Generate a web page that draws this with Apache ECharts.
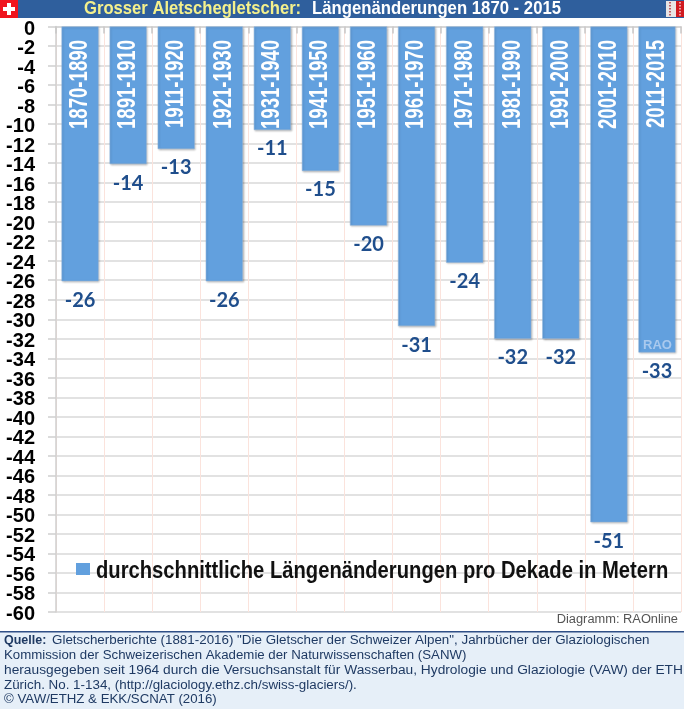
<!DOCTYPE html>
<html><head><meta charset="utf-8">
<script src="https://cdn.jsdelivr.net/npm/echarts@6/dist/echarts.min.js"></script>
<style>html,body{margin:0;padding:0;background:#fff}#c{width:684px;height:709px}</style></head>
<body><div id="c"></div>
<script>
const categories = ['1870-1890','1891-1910','1911-1920','1921-1930','1931-1940','1941-1950','1951-1960','1961-1970','1971-1980','1981-1990','1991-2000','2001-2010','2011-2015'];
const values = [-26.1,-14.1,-12.55,-26.1,-10.6,-14.8,-20.4,-30.7,-24.2,-32,-32,-50.8,-33.4];
const tickLabels = [0,-2,-4,-6,-8,-10,-12,-14,-16,-18,-20,-22,-24,-26,-28,-30,-32,-34,-36,-38,-40,-42,-44,-46,-48,-50,-52,-54,-56,-58,-60];
const seriesName = 'durchschnittliche Längenänderungen pro Dekade in Metern';
const titleLeft = 'Grosser Aletschegletscher:';
const titleRight = 'Längenänderungen 1870 - 2015';
const credit = 'Diagramm: RAOnline';
const sourceLines = [
 'Gletscherberichte (1881-2016) "Die Gletscher der Schweizer Alpen", Jahrbücher der Glaziologischen',
 'Kommission der Schweizerischen Akademie der Naturwissenschaften (SANW)',
 'herausgegeben seit 1964 durch die Versuchsanstalt für Wasserbau, Hydrologie und Glaziologie (VAW) der ETH',
 'Zürich. No. 1-134, (http://glaciology.ethz.ch/swiss-glaciers/).',
 '© VAW/ETHZ & EKK/SCNAT (2016)'
];
const sourceScales = [1.07,1.06,1.10,1.07,1.06];
const SANS = '"Liberation Sans",Arial,sans-serif';
const chart = echarts.init(document.getElementById('c'));
const sx = (x,y,scaleX,style,z)=>({type:'text',z:z||3,x:x,y:y,scaleX:scaleX,style:Object.assign({x:0,y:0,verticalAlign:'middle'},style)});
const g = [
 {type:'rect',z:1,shape:{x:0,y:0,width:684,height:18},style:{fill:'#2f5f9d'}},
 {type:'rect',z:2,shape:{x:0,y:0,width:18,height:18},style:{fill:'#f0141e'}},
 {type:'rect',z:3,shape:{x:7,y:3,width:4,height:12},style:{fill:'#fff'}},
 {type:'rect',z:3,shape:{x:3,y:7,width:12,height:4},style:{fill:'#fff'}},
 {type:'rect',z:2,shape:{x:666,y:1,width:18,height:16},style:{fill:'#e8e4e4'}},
 {type:'rect',z:3,shape:{x:676,y:1,width:8,height:16},style:{fill:'#d01a20'}},
 {type:'line',z:4,shape:{x1:670,y1:2,x2:670,y2:17},style:{stroke:'#b03038',lineWidth:1.5,lineDash:[1.5,1.5]}},
 {type:'line',z:4,shape:{x1:680,y1:2,x2:680,y2:17},style:{stroke:'#f4d0d0',lineWidth:1.5,lineDash:[1.5,1.5]}},
 sx(84,9,0.875,{text:titleLeft,fill:'#f4f08c',font:'bold 19px '+SANS}),
 sx(312,9,0.88,{text:titleRight,fill:'#ffffff',font:'bold 19px '+SANS}),
 {type:'text',z:20,style:{x:643,y:345,text:'RAO',fill:'#a9c9ee',font:'bold 13px '+SANS,verticalAlign:'middle'}},
 sx(678,620,1.07,{text:credit,fill:'#555555',font:'12px '+SANS,align:'right'}),
 {type:'rect',z:1,shape:{x:0,y:632,width:684,height:77},style:{fill:'#e6eff8'}},
 {type:'rect',z:2,shape:{x:0,y:631,width:684,height:1.5},style:{fill:'#2f4f86'}},
 {type:'text',z:3,style:{x:4,y:641,text:'Quelle:',fill:'#1f3a63',font:'bold 12.5px '+SANS,verticalAlign:'middle'}},
 {type:'rect',z:15,shape:{x:76,y:563,width:14,height:12},style:{fill:'#62a0de'}},
 sx(96,572,0.878,{text:seriesName,fill:'#111',font:'bold 23px '+SANS},15),
];
sourceLines.forEach((t,i)=>g.push(sx(i===0?52:4,641+i*14.7,sourceScales[i],{text:t,fill:'#1f3a63',font:'12.5px '+SANS})));
chart.setOption({
 animation:false,
 backgroundColor:'#ffffff',
 grid:{left:56,right:3,top:26.5,bottom:97,outerBoundsMode:'none'},
 xAxis:{type:'category',position:'top',data:categories,
   axisLine:{show:true,onZero:false,lineStyle:{color:'#d4d4d4',width:1.5}},
   axisTick:{show:true,inside:true,length:7,interval:0,lineStyle:{color:'#c8c8c8',width:1.5}},
   splitLine:{show:true,interval:0,lineStyle:{color:'#fbe3dc',width:1}},
   axisLabel:{show:false}},
 yAxis:{type:'value',min:-60,max:0,interval:2,
   axisLine:{show:true,onZero:false,lineStyle:{color:'#cfcfcf',width:1.5}},
   axisTick:{show:true,length:8,lineStyle:{color:'#cfcfcf',width:1.5}},
   splitLine:{show:true,lineStyle:{color:'#d9d9d9',width:1.5}},
   axisLabel:{show:false}},
 series:[
  {name:seriesName,type:'bar',data:values,barWidth:37,
   itemStyle:{color:'#62a0de',borderColor:'#8fb4dc',borderWidth:0.5,shadowColor:'rgba(0,0,0,0.25)',shadowBlur:2,shadowOffsetX:1,shadowOffsetY:1},
   label:{show:true,position:'bottom',distance:9,color:'#1f4e8c',fontFamily:'Lato,"Open Sans",sans-serif',fontWeight:'bold',fontSize:20,
     formatter:p=>String(Math.round(p.value))}},
  {type:'custom',data:categories.map((c,i)=>[i,0]),z:10,silent:true,clip:false,
   encode:{x:0,y:1},
   renderItem:(params,api)=>{
     const p=api.coord([api.value(0),0]);
     return {type:'text',x:p[0],y:p[1]+13.5,rotation:Math.PI/2,scaleX:0.745,
       style:{x:0,y:0,text:categories[params.dataIndex],fill:'#fff',font:'bold 25px '+SANS,align:'right',verticalAlign:'middle'}};
   }},
  {type:'custom',data:tickLabels.map(v=>[0,v]),z:10,silent:true,clip:false,
   encode:{x:0,y:1},
   renderItem:(params,api)=>{
     const p=api.coord([0,api.value(1)]);
     return {type:'text',x:35,y:p[1]+2.5,
       style:{x:0,y:0,text:String(api.value(1)),fill:'#000',font:'bold 20px '+SANS,align:'right',verticalAlign:'middle'}};
   }}
 ],
 graphic:g
});
</script></body></html>
